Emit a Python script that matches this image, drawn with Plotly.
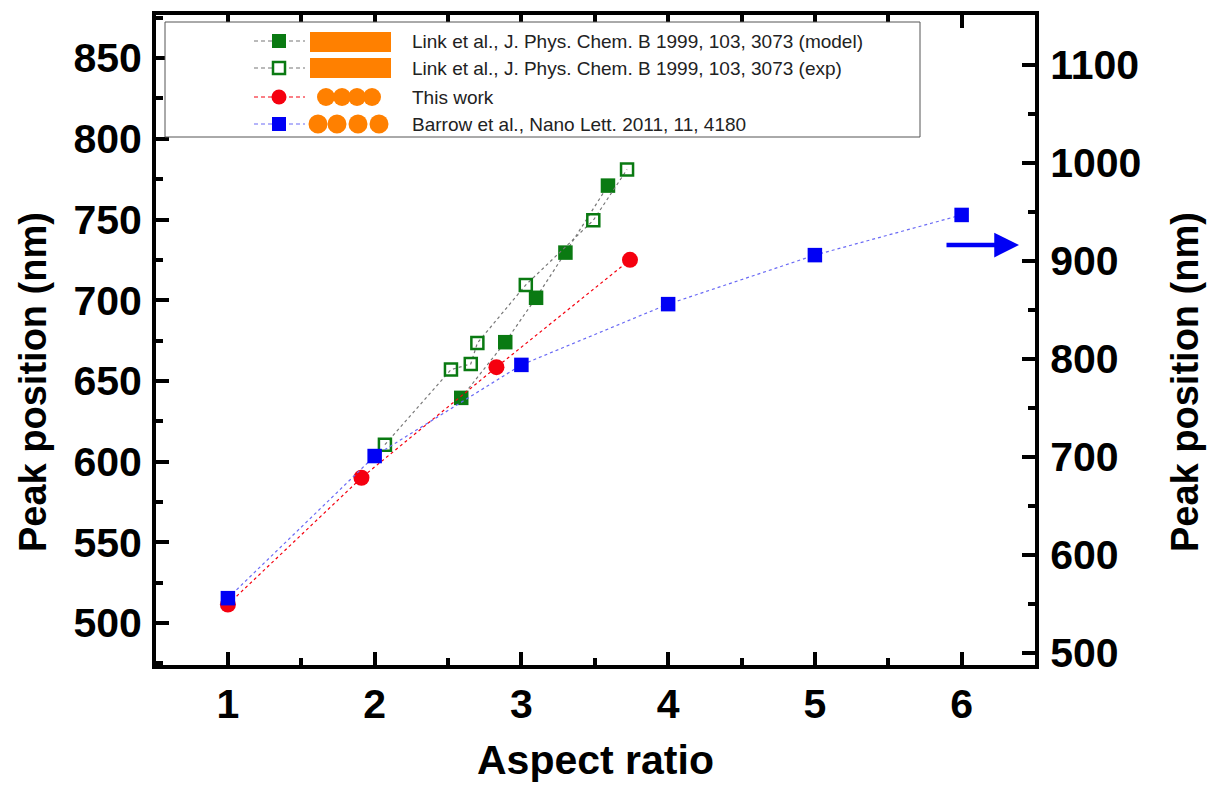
import plotly.graph_objects as go

W, H = 1209, 785
L, R, T, B = 156, 1035, 15, 665

model_x = [2.59, 2.89, 3.10, 3.30, 3.59]
model_y = [639.5, 674, 701.5, 729.5, 771]
exp_x = [2.07, 2.52, 2.655, 2.70, 3.03, 3.49, 3.72]
exp_y = [610.5, 657, 660.5, 673.5, 709.5, 749.5, 781]
this_x = [1, 1.91, 2.83, 3.74]
this_y = [511.5, 590, 658.5, 725]
barrow_x = [1, 2, 3, 4, 5, 6]
barrow_y = [556, 701, 794, 856, 906, 947]
legend_labels = [
    "Link et al., J. Phys. Chem. B 1999, 103, 3073 (model)",
    "Link et al., J. Phys. Chem. B 1999, 103, 3073 (exp)",
    "This work",
    "Barrow et al., Nano Lett. 2011, 11, 4180",
]
FONT = "Liberation Sans"
GREEN, RED, BLUE, ORANGE, GREY = "#0a7a12", "#f5000f", "#0000f5", "#ff8000", "#777777"
fig = go.Figure()


def add(x, y, name, line, sym, col, yaxis="y"):
    op = "open" in sym
    fig.add_trace(go.Scatter(
        x=x, y=y, name=name, yaxis=yaxis, mode="lines+markers", showlegend=False,
        line=dict(color=line, width=1.2, dash="3px,3px"),
        marker=dict(symbol=sym, size=12 if op else (16 if sym == "circle" else 14.5), color=col,
                    line=dict(color=col, width=2.5 if op else 0)),
    ))


add(model_x, model_y, legend_labels[0], GREY, "square", GREEN)
add(exp_x, exp_y, legend_labels[1], GREY, "square-open", GREEN)
add(this_x, this_y, legend_labels[2], RED, "circle", RED)
add(barrow_x, barrow_y, legend_labels[3], "#6a6af5", "square", BLUE, yaxis="y2")


def px(v):
    return (v - L) / (R - L)


def py(v):
    return (B - v) / (B - T)


shapes = []
annotations = []


def rect(x0, y0, x1, y1, **kw):
    shapes.append(dict(type="rect", xref="paper", yref="paper", x0=px(x0), x1=px(x1),
                       y0=py(y0), y1=py(y1), layer="above", **kw))


def circ(cx, cy, r, color):
    shapes.append(dict(type="circle", xref="paper", yref="paper", x0=px(cx - r), x1=px(cx + r),
                       y0=py(cy - r), y1=py(cy + r), layer="above", fillcolor=color,
                       line=dict(width=0)))


rect(165, 22, 920, 137, fillcolor="white", line=dict(color="#555555", width=1))
rows = [41, 68, 97, 124]
cols = [GREEN, GREEN, RED, BLUE]
grey = [GREY, GREY, RED, "#6a6af5"]
for i, cy in enumerate(rows):
    shapes.append(dict(type="line", xref="paper", yref="paper", x0=px(254), x1=px(305),
                       y0=py(cy), y1=py(cy), layer="above",
                       line=dict(color=grey[i], width=1.2, dash="4px,3px")))
    if i == 2:
        circ(279, cy, 7.5, RED)
    elif i == 1:
        rect(273, cy - 6, 285, cy + 6, fillcolor="white", line=dict(color=GREEN, width=2.5))
    else:
        rect(272, cy - 7, 286, cy + 7, fillcolor=cols[i], line=dict(width=0))
    annotations.append(dict(text=legend_labels[i], xref="paper", yref="paper", x=px(410), y=py(cy + 1),
                            xanchor="left", yanchor="middle", showarrow=False,
                            font=dict(family=FONT, size=19, color="#222222")))
rect(310, 32, 391, 52, fillcolor=ORANGE, line=dict(width=0))
rect(310, 58, 391, 78, fillcolor=ORANGE, line=dict(width=0))
for cx in (326, 342, 357, 372):
    circ(cx, 97, 9, ORANGE)
for cx in (318, 337, 358, 379):
    circ(cx, 124, 9.5, ORANGE)

annotations.append(dict(x=px(1019), y=py(245), ax=-74, ay=0, xref="paper", yref="paper",
                        axref="pixel", ayref="pixel", text="", showarrow=True, arrowhead=2,
                        arrowsize=1.1, arrowwidth=4.5, arrowcolor=BLUE))
titlefont = dict(family=FONT, size=38, color="black", weight=700)
for xp in (33, 1185):
    annotations.append(dict(text="Peak position (nm)", xref="paper", yref="paper", x=px(xp), y=py(382),
                            xanchor="center", yanchor="middle", textangle=-90, showarrow=False,
                            font=titlefont))
annotations.append(dict(text="Aspect ratio", xref="paper", yref="paper", x=px(595), y=py(760),
                        xanchor="center", yanchor="middle", showarrow=False,
                        font=dict(family=FONT, size=41, color="black", weight=700)))

tickfont = dict(family=FONT, size=41, color="black", weight=700)
axis_common = dict(showgrid=False, zeroline=False, showline=True, linecolor="black", linewidth=4,
                   ticks="inside", ticklen=13, tickwidth=4, tickcolor="black", tickfont=tickfont,
                   automargin=False)
minor = dict(ticks="inside", ticklen=7, tickwidth=4, tickcolor="black", showgrid=False)

fig.update_layout(
    width=W, height=H, autosize=False, paper_bgcolor="white", plot_bgcolor="white",
    margin=dict(l=L, r=W - R, t=T, b=H - B), showlegend=False,
    xaxis=dict(range=[0.51, 6.5], dtick=1, tick0=0, mirror="ticks",
               minor=dict(dtick=0.5, tick0=0, **minor), **axis_common),
    yaxis=dict(range=[474, 876.7], dtick=50, tick0=0, ticklabelstandoff=2,
               minor=dict(dtick=25, tick0=0, **minor), **axis_common),
    yaxis2=dict(range=[487.8, 1151], dtick=100, tick0=0, overlaying="y", side="right",
                ticklabelstandoff=3, minor=dict(dtick=50, tick0=0, **minor), **axis_common),
    shapes=shapes, annotations=annotations,
)
fig.write_html("out.html", config=dict(displayModeBar=False),
               post_script="document.body.style.margin='0';document.body.style.overflow='hidden';")
